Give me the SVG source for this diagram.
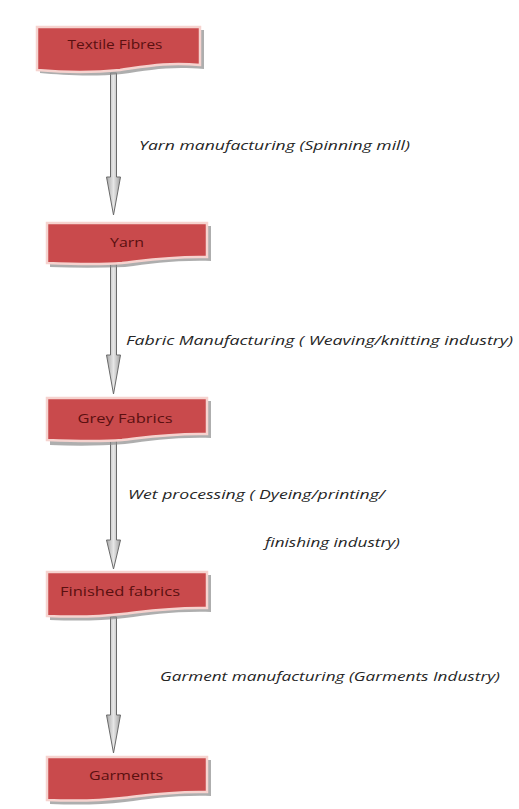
<svg xmlns="http://www.w3.org/2000/svg" width="519" height="809" viewBox="0 0 519 809">
  <defs>
    <linearGradient id="arrowGrad" x1="0" y1="0" x2="1" y2="0">
      <stop offset="0" stop-color="#a8a8a8"/>
      <stop offset="0.5" stop-color="#e6e6e6"/>
      <stop offset="1" stop-color="#a0a0a0"/>
    </linearGradient>
    <style>
      .shadow { fill: #8c8c8c; opacity: 0.7; }
      .box { fill: #c94a4c; stroke: #f6d3cf; stroke-width: 2.5; }
      .nodeText { font-family: "Open Sans", "Liberation Sans", sans-serif; font-size: 13px; fill: #5a1010; text-anchor: middle; }
      .label { font-family: "Open Sans", "Liberation Sans", sans-serif; font-size: 12.5px; font-style: italic; fill: #262626; }
      .arrow { fill: url(#arrowGrad); stroke: #6a6a6a; stroke-width: 1; }
    </style>
  </defs>
  <rect width="519" height="809" fill="#ffffff"/>

  <g id="connectors">
    <path class="arrow" d="M110.5,73 H116.5 V177 H120.5 L113.5,215 L106.5,177 H110.5 Z"/>
    <path class="arrow" d="M110.5,264 H116.5 V355 H120.5 L113.5,394 L106.5,355 H110.5 Z"/>
    <path class="arrow" d="M110.5,441 H116.5 V540 H120.5 L113.5,569 L106.5,540 H110.5 Z"/>
    <path class="arrow" d="M110.5,617 H116.5 V715 H120.5 L113.5,753 L106.5,715 H110.5 Z"/>
  </g>

  <g id="edge-labels">
    <text class="label" x="139" y="150" textLength="271" lengthAdjust="spacingAndGlyphs">Yarn manufacturing  (Spinning  mill)</text>
    <text class="label" x="126" y="345" textLength="387" lengthAdjust="spacingAndGlyphs">Fabric Manufacturing  ( Weaving/knitting  industry)</text>
    <text class="label" x="128" y="499" textLength="257" lengthAdjust="spacingAndGlyphs">Wet processing ( Dyeing/printing/</text>
    <text class="label" x="265" y="547" textLength="135" lengthAdjust="spacingAndGlyphs">finishing industry)</text>
    <text class="label" x="160" y="681" textLength="340" lengthAdjust="spacingAndGlyphs">Garment manufacturing (Garments Industry)</text>
  </g>

  <g id="node-textile-fibres">
    <path class="shadow" d="M40,30 H204 V69 C170,66 150,70 122,74 C92,77 62,75 40,73 Z"/>
    <path class="box" d="M37,27 H200 V65 C168,62 148,66 120,70 C90,73 60,72 37,70 Z"/>
    <text class="nodeText" x="115" y="49" textLength="95" lengthAdjust="spacingAndGlyphs">Textile Fibres</text>
  </g>

  <g id="node-yarn">
    <path class="shadow" d="M50,226 H211 V261 C175,260 150,264 125,267 C100,268 75,268 50,267 Z"/>
    <path class="box" d="M47,223 H207 V257 C172,256 148,260 122,263 C97,265 72,264 47,263 Z"/>
    <text class="nodeText" x="127" y="247" textLength="34" lengthAdjust="spacingAndGlyphs">Yarn</text>
  </g>

  <g id="node-grey-fabrics">
    <path class="shadow" d="M50,401 H211 V438 C175,437 150,441 125,444 C100,446 75,446 50,445 Z"/>
    <path class="box" d="M47,398 H207 V434 C172,433 148,437 122,440 C97,442 72,441 47,440 Z"/>
    <text class="nodeText" x="125" y="423" textLength="95" lengthAdjust="spacingAndGlyphs">Grey Fabrics</text>
  </g>

  <g id="node-finished-fabrics">
    <path class="shadow" d="M50,575 H211 V612 C175,611 150,615 125,618 C100,621 75,621 50,620 Z"/>
    <path class="box" d="M47,572 H207 V608 C172,607 148,611 122,614 C97,617 72,617 47,616 Z"/>
    <text class="nodeText" x="120" y="596" textLength="120" lengthAdjust="spacingAndGlyphs">Finished fabrics</text>
  </g>

  <g id="node-garments">
    <path class="shadow" d="M50,760 H211 V796 C175,795 150,799 125,802 C100,805 75,805 50,804 Z"/>
    <path class="box" d="M47,757 H207 V792 C172,791 148,795 122,798 C97,801 72,801 47,800 Z"/>
    <text class="nodeText" x="126" y="780" textLength="74" lengthAdjust="spacingAndGlyphs">Garments</text>
  </g>
</svg>
